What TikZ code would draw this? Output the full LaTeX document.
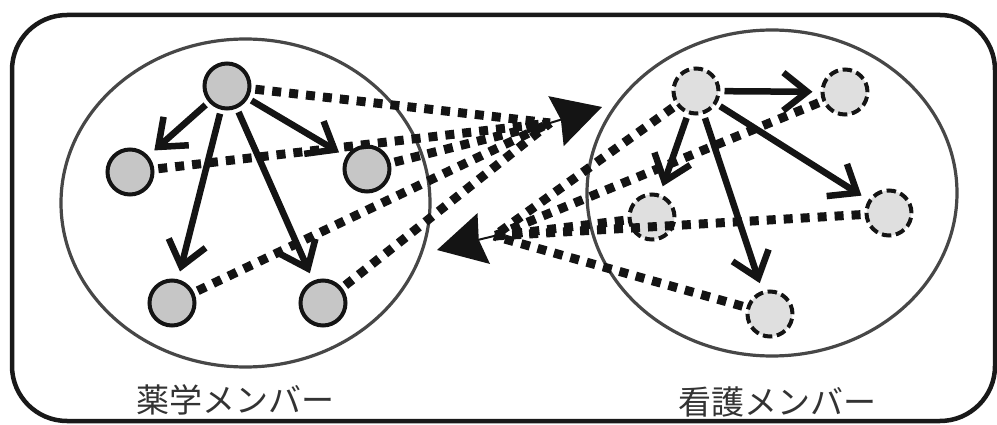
\documentclass[tikz,border=0pt]{standalone}
\usepackage{fontspec}
\newfontfamily\cjk{Noto Sans CJK JP}
\usetikzlibrary{arrows.meta,shapes.geometric}
\begin{document}
\begin{tikzpicture}[x=1pt,y=-1pt,
  frame/.style={draw=black!90, line width=4.5pt, rounded corners=55pt},
  group/.style={ellipse, draw=black!72, line width=3.2pt, inner sep=0pt},
  pharm/.style={circle, draw=black!92, line width=4pt, fill=gray!45, minimum size=45pt, inner sep=0pt},
  nurse/.style={circle, draw=black!92, line width=4pt, dash pattern=on 9.5pt off 4.6pt, fill=gray!25, minimum size=45pt, inner sep=0pt},
  hier/.style={draw=black!92, line width=6.5pt, -{Straight Barb[length=24pt, width=38pt]}, shorten <=4pt, shorten >=8pt},
  ties/.style={draw=black!92, line width=9pt, dash pattern=on 9pt off 8pt, shorten <=4pt},
  bighead/.style={draw=black!92, fill=black!92, line width=2pt, line join=round, -{Stealth[length=48pt, width=52pt, inset=5pt]}},
  lbl/.style={inner sep=0pt, text=black!80, font=\cjk\fontsize{33}{40}\selectfont}
]
\useasboundingbox (0,0) rectangle (997,425);
\draw[frame] (12,15) rectangle (995,421);

\node[group, minimum width=369pt, minimum height=328pt] (gp) at (245.5,203) {};
\node[group, minimum width=370pt, minimum height=326pt] (gn) at (772,193) {};

\node[lbl] (tp) at (235,400) {薬学メンバー};
\node[lbl] (tn) at (777,402) {看護メンバー};

\node[pharm] (p1) at (227,86) {};
\node[pharm] (p2) at (130,172) {};
\node[pharm] (p3) at (367,169) {};
\node[pharm] (p4) at (172,303) {};
\node[pharm] (p5) at (323,303) {};

\node[nurse] (n1) at (696,91) {};
\node[nurse] (n2) at (845,92) {};
\node[nurse] (n3) at (652,217) {};
\node[nurse] (n4) at (889,213) {};
\node[nurse] (n5) at (770,314) {};

\coordinate (hubR) at (550,123);
\coordinate (tipR) at (602,107);
\coordinate (hubL) at (494,236);
\coordinate (tipL) at (437,250);

\draw[hier] (p1) -- (p2);
\draw[hier] (p1) -- (p4);
\draw[hier] (p1) -- (p5);
\draw[hier] (p1) -- (p3);

\draw[hier] (n1) -- (n2);
\draw[hier] (n1) -- (n3);
\draw[hier] (n1) -- (n5);
\draw[hier] (n1) -- (n4);

\draw[ties] (p1) -- (hubR);
\draw[ties] (p2) -- (hubR);
\draw[ties] (p3) -- (hubR);
\draw[ties] (p4) -- (hubR);
\draw[ties] (p5) -- (hubR);

\draw[ties] (n1) -- (hubL);
\draw[ties] (n2) -- (hubL);
\draw[ties] (n3) -- (hubL);
\draw[ties] (n4) -- (hubL);
\draw[ties] (n5) -- (hubL);

\draw[bighead] (hubR) -- (tipR);
\draw[bighead] (hubL) -- (tipL);
\end{tikzpicture}
\end{document}
